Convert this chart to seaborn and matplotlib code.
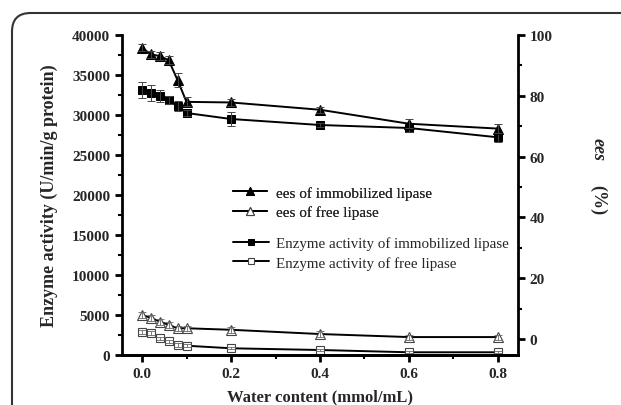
import matplotlib
matplotlib.use("Agg")
import matplotlib.pyplot as plt
import seaborn as sns
import numpy as np
import pandas as pd
from matplotlib.patches import FancyBboxPatch
from matplotlib.ticker import MultipleLocator

# ---- data ----
water = [0.0, 0.02, 0.04, 0.06, 0.08, 0.10, 0.20, 0.40, 0.60, 0.80]
ees_immob = [95.8, 93.6, 93.1, 91.7, 85.1, 78.0, 77.8, 75.4, 70.8, 69.2]
ees_immob_err = [1.2, 1.2, 1.2, 1.3, 2.3, 1.5, 1.2, 1.0, 1.4, 1.4]
ees_free = [7.9, 6.9, 5.7, 4.6, 3.5, 3.5, 3.0, 1.6, 0.6, 0.6]
ees_free_err = [1.0, 1.0, 1.0, 1.0, 0.9, 0.9, 1.0, 1.0, 0.8, 0.8]
act_immob = [33160, 32710, 32410, 31875, 31160, 30250, 29500, 28750, 28375, 27210]
act_immob_err = [1000, 1000, 750, 500, 600, 400, 900, 300, 500, 600]
act_free = [2840, 2710, 2090, 1710, 1250, 1160, 840, 625, 340, 340]
act_free_err = [250, 250, 200, 200, 200, 200, 150, 150, 100, 100]

x_ticks = [0.0, 0.2, 0.4, 0.6, 0.8]
left_ticks = [0, 5000, 10000, 15000, 20000, 25000, 30000, 35000, 40000]
right_ticks = [0, 20, 40, 60, 80, 100]

sns.set_theme(style="white")
plt.rcParams['font.family'] = ['Liberation Serif', 'DejaVu Serif']

fig = plt.figure(figsize=(6.21, 4.06), dpi=100)
ax = fig.add_axes([122/621, 1-356/406, (518-122)/621, (356-36)/406])
ax2 = ax.twinx()

df = pd.DataFrame({"x": water, "ees_immob": ees_immob, "ees_free": ees_free,
                   "act_immob": act_immob, "act_free": act_free})

lw = 1.4
# left axis: enzyme activity
sns.lineplot(data=df, x="x", y="act_immob", ax=ax, color="black", lw=lw,
             marker="s", markersize=6, markerfacecolor="black", markeredgecolor="black",
             label="Enzyme activity of immobilized lipase", legend=False)
ax.errorbar(water, act_immob, yerr=act_immob_err, fmt="none", ecolor="#444444",
            elinewidth=0.7, capsize=3, capthick=0.7)
sns.lineplot(data=df, x="x", y="act_free", ax=ax, color="black", lw=lw,
             marker="s", markersize=5.5, markerfacecolor="white", markeredgecolor="#444444",
             markeredgewidth=0.8,
             label="Enzyme activity of free lipase", legend=False)
ax.errorbar(water, act_free, yerr=act_free_err, fmt="none", ecolor="#666666",
            elinewidth=0.6, capsize=3, capthick=0.6)

# right axis: ees
sns.lineplot(data=df, x="x", y="ees_immob", ax=ax2, color="black", lw=lw,
             marker="^", markersize=7.5, markerfacecolor="black", markeredgecolor="black",
             label="ees of immobilized lipase", legend=False)
ax2.errorbar(water, ees_immob, yerr=ees_immob_err, fmt="none", ecolor="#444444",
             elinewidth=0.7, capsize=3, capthick=0.7)
sns.lineplot(data=df, x="x", y="ees_free", ax=ax2, color="black", lw=lw,
             marker="^", markersize=7, markerfacecolor="white", markeredgecolor="#444444",
             markeredgewidth=0.8,
             label="ees of free lipase", legend=False)
ax2.errorbar(water, ees_free, yerr=ees_free_err, fmt="none", ecolor="#666666",
             elinewidth=0.6, capsize=3, capthick=0.6)

ax.set_xlim(-0.045, 0.845)
ax.set_ylim(0, 40000)
ax2.set_ylim(-5.3, 100)

ax.set_xticks(x_ticks)
ax.set_xticklabels([f"{v:.1f}" for v in x_ticks])
ax.xaxis.set_minor_locator(MultipleLocator(0.1))
ax.set_yticks(left_ticks)
ax.set_yticklabels([str(v) for v in left_ticks])
ax.yaxis.set_minor_locator(MultipleLocator(2500))
ax2.set_yticks(right_ticks)
ax2.set_yticklabels([str(v) for v in right_ticks])
ax2.yaxis.set_minor_locator(MultipleLocator(10))

for a in (ax, ax2):
    a.spines['top'].set_visible(False)
    for s in a.spines.values():
        s.set_linewidth(2)
        s.set_color("black")
    a.grid(False)
    a.set_facecolor("none")
ax2.spines['left'].set_visible(False)
ax.spines['right'].set_visible(False)

ax.tick_params(axis='both', which='major', direction='out', length=5, width=2,
               labelsize=11, color='black', bottom=True, left=True)
ax.tick_params(axis='both', which='minor', direction='out', length=3, width=1.5,
               color='black', bottom=True, left=True)
ax.tick_params(axis='y', which='both', right=False)
ax2.tick_params(axis='y', which='major', direction='out', length=5, width=2,
                labelsize=11, color='black', right=True, left=False)
ax2.tick_params(axis='y', which='minor', direction='out', length=3, width=1.5,
                color='black', right=True, left=False)
for lab in ax.get_xticklabels() + ax.get_yticklabels() + ax2.get_yticklabels():
    lab.set_fontweight('bold')

ax.set_xlabel("Water content (mmol/mL)", fontsize=12, fontweight='bold', labelpad=6)
ax.set_ylabel("Enzyme activity (U/min/g protein)", fontsize=13, fontweight='bold', labelpad=10)
ax2.set_ylabel("")
fig.text(598/621, 1-150/406, "ees", rotation=270, fontsize=13, fontweight='bold',
         fontstyle='italic', ha='center', va='center')
fig.text(598/621, 1-200/406, "(%)", rotation=270, fontsize=13, fontweight='bold',
         ha='center', va='center')

# legends
h2, l2 = ax2.get_legend_handles_labels()
h1, l1 = ax.get_legend_handles_labels()
leg1 = ax2.legend(h2, l2, loc='upper left', bbox_to_anchor=(233/621, 1-187/406),
                  bbox_transform=fig.transFigure, frameon=False, fontsize=11,
                  handlelength=2.2, handletextpad=0.6, labelspacing=0.38,
                  borderaxespad=0, borderpad=0, markerscale=0.8)
leg2 = ax.legend(h1, l1, loc='upper left', bbox_to_anchor=(233/621, 1-237/406),
                 bbox_transform=fig.transFigure, frameon=False, fontsize=10.8,
                 handlelength=2.4, handletextpad=0.5, labelspacing=0.4,
                 borderaxespad=0, borderpad=0, markerscale=0.8)
ax2.add_artist(leg1)

# rounded frame around figure
frame = FancyBboxPatch((12/621, -0.2), 1.2, 1 - 14/406 + 0.2,
                       boxstyle="round,pad=0,rounding_size=0.03",
                       transform=fig.transFigure, fill=False, edgecolor="#333333",
                       linewidth=1.5, mutation_aspect=621/406)
fig.patches.append(frame)

fig.savefig("out.png", dpi=100)
